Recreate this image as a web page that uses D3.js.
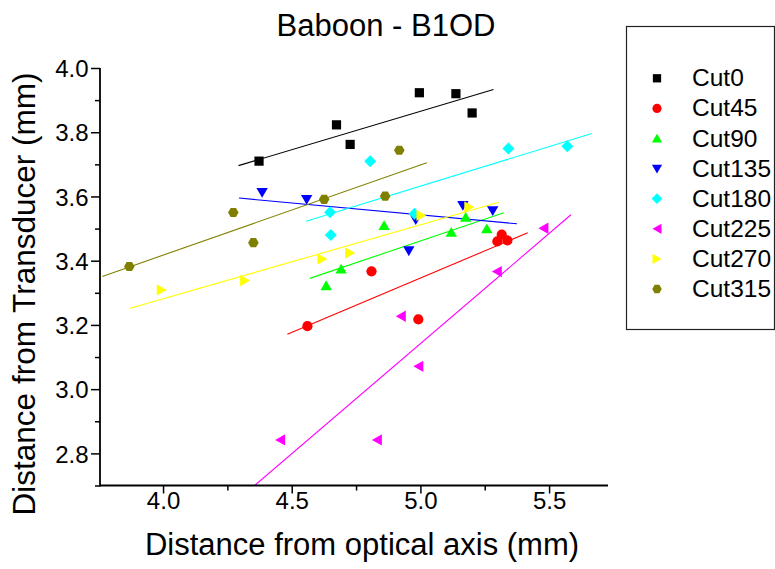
<!DOCTYPE html>
<html><head><meta charset="utf-8">
<script src="https://cdn.jsdelivr.net/npm/d3@7"></script>
<style>body{margin:0;background:#fff} text{font-family:"Liberation Sans",Arial,sans-serif;fill:#000}</style>
</head><body><svg id="c" width="775" height="569"></svg>
<script>
const seriesNames = ["Cut0","Cut45","Cut90","Cut135","Cut180","Cut225","Cut270","Cut315"];
const seriesColors = ["#000000","#ff0000","#00ff00","#0000ff","#00ffff","#ff00ff","#ffff00","#808000"];
const seriesShapes = ["square","circle","up","down","diamond","left","right","hexagon"];

const cut0X = [4.373, 4.674, 4.727, 4.996, 5.138, 5.201];
const cut0Y = [3.710, 3.823, 3.762, 3.923, 3.920, 3.860];
const cut45X = [4.561, 4.810, 4.992, 5.299, 5.316, 5.338];
const cut45Y = [3.196, 3.367, 3.217, 3.460, 3.481, 3.463];
const cut90X = [4.634, 4.692, 4.859, 5.120, 5.176, 5.258];
const cut90Y = [3.322, 3.374, 3.509, 3.488, 3.535, 3.499];
const cut135X = [4.385, 4.558, 4.982, 4.955, 5.165, 5.281];
const cut135Y = [3.613, 3.591, 3.528, 3.431, 3.572, 3.556];
const cut180X = [4.649, 4.652, 4.805, 4.977, 5.342, 5.571];
const cut180Y = [3.551, 3.480, 3.710, 3.546, 3.749, 3.756];
const cut225X = [4.455, 4.831, 4.924, 4.992, 5.297, 5.478];
const cut225Y = [2.842, 2.842, 3.227, 3.071, 3.366, 3.501];
const cut270X = [3.995, 4.319, 4.619, 4.727, 5.004, 5.190];
const cut270Y = [3.309, 3.338, 3.405, 3.424, 3.541, 3.567];
const cut315X = [3.869, 4.273, 4.351, 4.626, 4.863, 4.918];
const cut315Y = [3.382, 3.550, 3.456, 3.591, 3.601, 3.744];

// linear fit lines: [xStart, yStart, xEnd, yEnd]
const fit0 = [4.293, 3.696, 5.284, 3.933];
const fit45 = [4.483, 3.171, 5.417, 3.487];
const fit90 = [4.570, 3.345, 5.324, 3.549];
const fit135 = [4.295, 3.595, 5.375, 3.515];
const fit180 = [4.556, 3.523, 5.666, 3.796];
const fit225 = [4.353, 2.698, 5.585, 3.543];
const fit270 = [3.869, 3.251, 5.305, 3.582];
const fit315 = [3.764, 3.351, 5.025, 3.705];

const xMajorTicks = [4.0, 4.5, 5.0, 5.5];
const xMinorTicks = [4.25, 4.75, 5.25];
const yMajorTicks = [2.8, 3.0, 3.2, 3.4, 3.6, 3.8, 4.0];
const yMinorTicks = [2.7, 2.9, 3.1, 3.3, 3.5, 3.7, 3.9];

const titleText = "Baboon - B1OD";
const xLabel = "Distance from optical axis (mm)";
const yLabel = "Distance from Transducer (mm)";

const seriesX = [cut0X, cut45X, cut90X, cut135X, cut180X, cut225X, cut270X, cut315X];
const seriesY = [cut0Y, cut45Y, cut90Y, cut135Y, cut180Y, cut225Y, cut270Y, cut315Y];
const fits = [fit0, fit45, fit90, fit135, fit180, fit225, fit270, fit315];

const svg = d3.select("#c");
const L = 100, R = 608, T = 68, B = 485.5;
const x = d3.scaleLinear().domain([3.755, 5.729]).range([L, R]);
const y = d3.scaleLinear().domain([2.7, 4.0]).range([B, T]);

function shapePath(shape, s) {
  const p = d3.path();
  const poly = pts => { p.moveTo(pts[0][0]*s, pts[0][1]*s); pts.slice(1).forEach(q => p.lineTo(q[0]*s, q[1]*s)); p.closePath(); };
  switch (shape) {
    case "square": poly([[-4.6,-4.6],[4.6,-4.6],[4.6,4.6],[-4.6,4.6]]); break;
    case "circle": p.arc(0, 0, 5.1*s, 0, 2*Math.PI); break;
    case "up": poly([[0,-5.4],[5.7,4.4],[-5.7,4.4]]); break;
    case "down": poly([[0,5.4],[5.7,-4.4],[-5.7,-4.4]]); break;
    case "left": poly([[-5,0],[5,-5.7],[5,5.7]]); break;
    case "right": poly([[5,0],[-5,-5.7],[-5,5.7]]); break;
    case "diamond": poly([[0,-6],[6,0],[0,6],[-6,0]]); break;
    case "hexagon": { const pts = d3.range(6).map(i => [5.3*Math.cos(i*Math.PI/3), 5.3*Math.sin(i*Math.PI/3)]); poly(pts); } break;
  }
  return p.toString();
}

svg.append("clipPath").attr("id","clip").append("rect")
  .attr("x", L).attr("y", T - 10).attr("width", R - L).attr("height", B - T + 10);

// fit lines
const gl = svg.append("g").attr("clip-path","url(#clip)");
fits.forEach((f, i) => {
  gl.append("line")
    .attr("x1", x(f[0])).attr("y1", y(f[1]))
    .attr("x2", x(f[2])).attr("y2", y(f[3]))
    .attr("stroke", seriesColors[i]).attr("stroke-width", 1.1);
});

// markers
seriesX.forEach((xs, i) => {
  const g = svg.append("g");
  xs.forEach((xv, j) => {
    g.append("path")
      .attr("d", shapePath(seriesShapes[i], 1))
      .attr("transform", `translate(${x(xv)},${y(seriesY[i][j])})`)
      .attr("fill", seriesColors[i]);
  });
});

// axes
const xAxis = svg.append("g").attr("transform", `translate(0,${B})`)
  .call(d3.axisBottom(x).tickValues(xMajorTicks).tickSize(8).tickSizeOuter(0).tickFormat(d3.format(".1f")));
xAxis.select(".domain").attr("stroke-width", 1.8).attr("d", `M${L},0H${R}`);
xAxis.selectAll(".tick line").attr("stroke-width", 1.5);
xAxis.selectAll("text").attr("y", 23.5).attr("dy", 0).style("font-size", "24px").attr("fill", "#000");
const xMinor = svg.append("g").attr("transform", `translate(0,${B})`)
  .call(d3.axisBottom(x).tickValues(xMinorTicks).tickSize(5).tickFormat(""));
xMinor.select(".domain").remove();
xMinor.selectAll(".tick line").attr("stroke-width", 1.5);

const yAxis = svg.append("g").attr("transform", `translate(${L},0)`)
  .call(d3.axisLeft(y).tickValues(yMajorTicks).tickSize(9).tickSizeOuter(0).tickFormat(d3.format(".1f")));
yAxis.select(".domain").attr("stroke-width", 1.8).attr("d", `M0,${T}V${B + 1}`);
yAxis.selectAll(".tick line").attr("stroke-width", 1.5);
yAxis.selectAll("text").attr("x", -11.5).attr("dy", "0.36em").style("font-size", "24px").attr("fill", "#000");
const yMinor = svg.append("g").attr("transform", `translate(${L},0)`)
  .call(d3.axisLeft(y).tickValues(yMinorTicks).tickSize(5).tickFormat(""));
yMinor.select(".domain").remove();
yMinor.selectAll(".tick line").attr("stroke-width", 1.5);

// title & labels
svg.append("text").attr("x", 386).attr("y", 36).attr("text-anchor", "middle")
  .style("font-size", "31px").text(titleText);
svg.append("text").attr("x", 362).attr("y", 555).attr("text-anchor", "middle")
  .style("font-size", "31px").text(xLabel);
svg.append("text").attr("transform", "translate(35,294) rotate(-90)").attr("text-anchor", "middle")
  .style("font-size", "31.5px").text(yLabel);

// legend
svg.append("rect").attr("x", 626.5).attr("y", 26.5).attr("width", 148).attr("height", 303)
  .attr("fill", "none").attr("stroke", "#222").attr("stroke-width", 1.2);
seriesNames.forEach((name, i) => {
  const cy = 78.3 + i * 30.1;
  svg.append("path").attr("d", shapePath(seriesShapes[i], 0.9))
    .attr("transform", `translate(657,${cy})`).attr("fill", seriesColors[i]);
  svg.append("text").attr("x", 692).attr("y", cy + 8).style("font-size", "24.5px").text(name);
});
</script>
</body></html>
